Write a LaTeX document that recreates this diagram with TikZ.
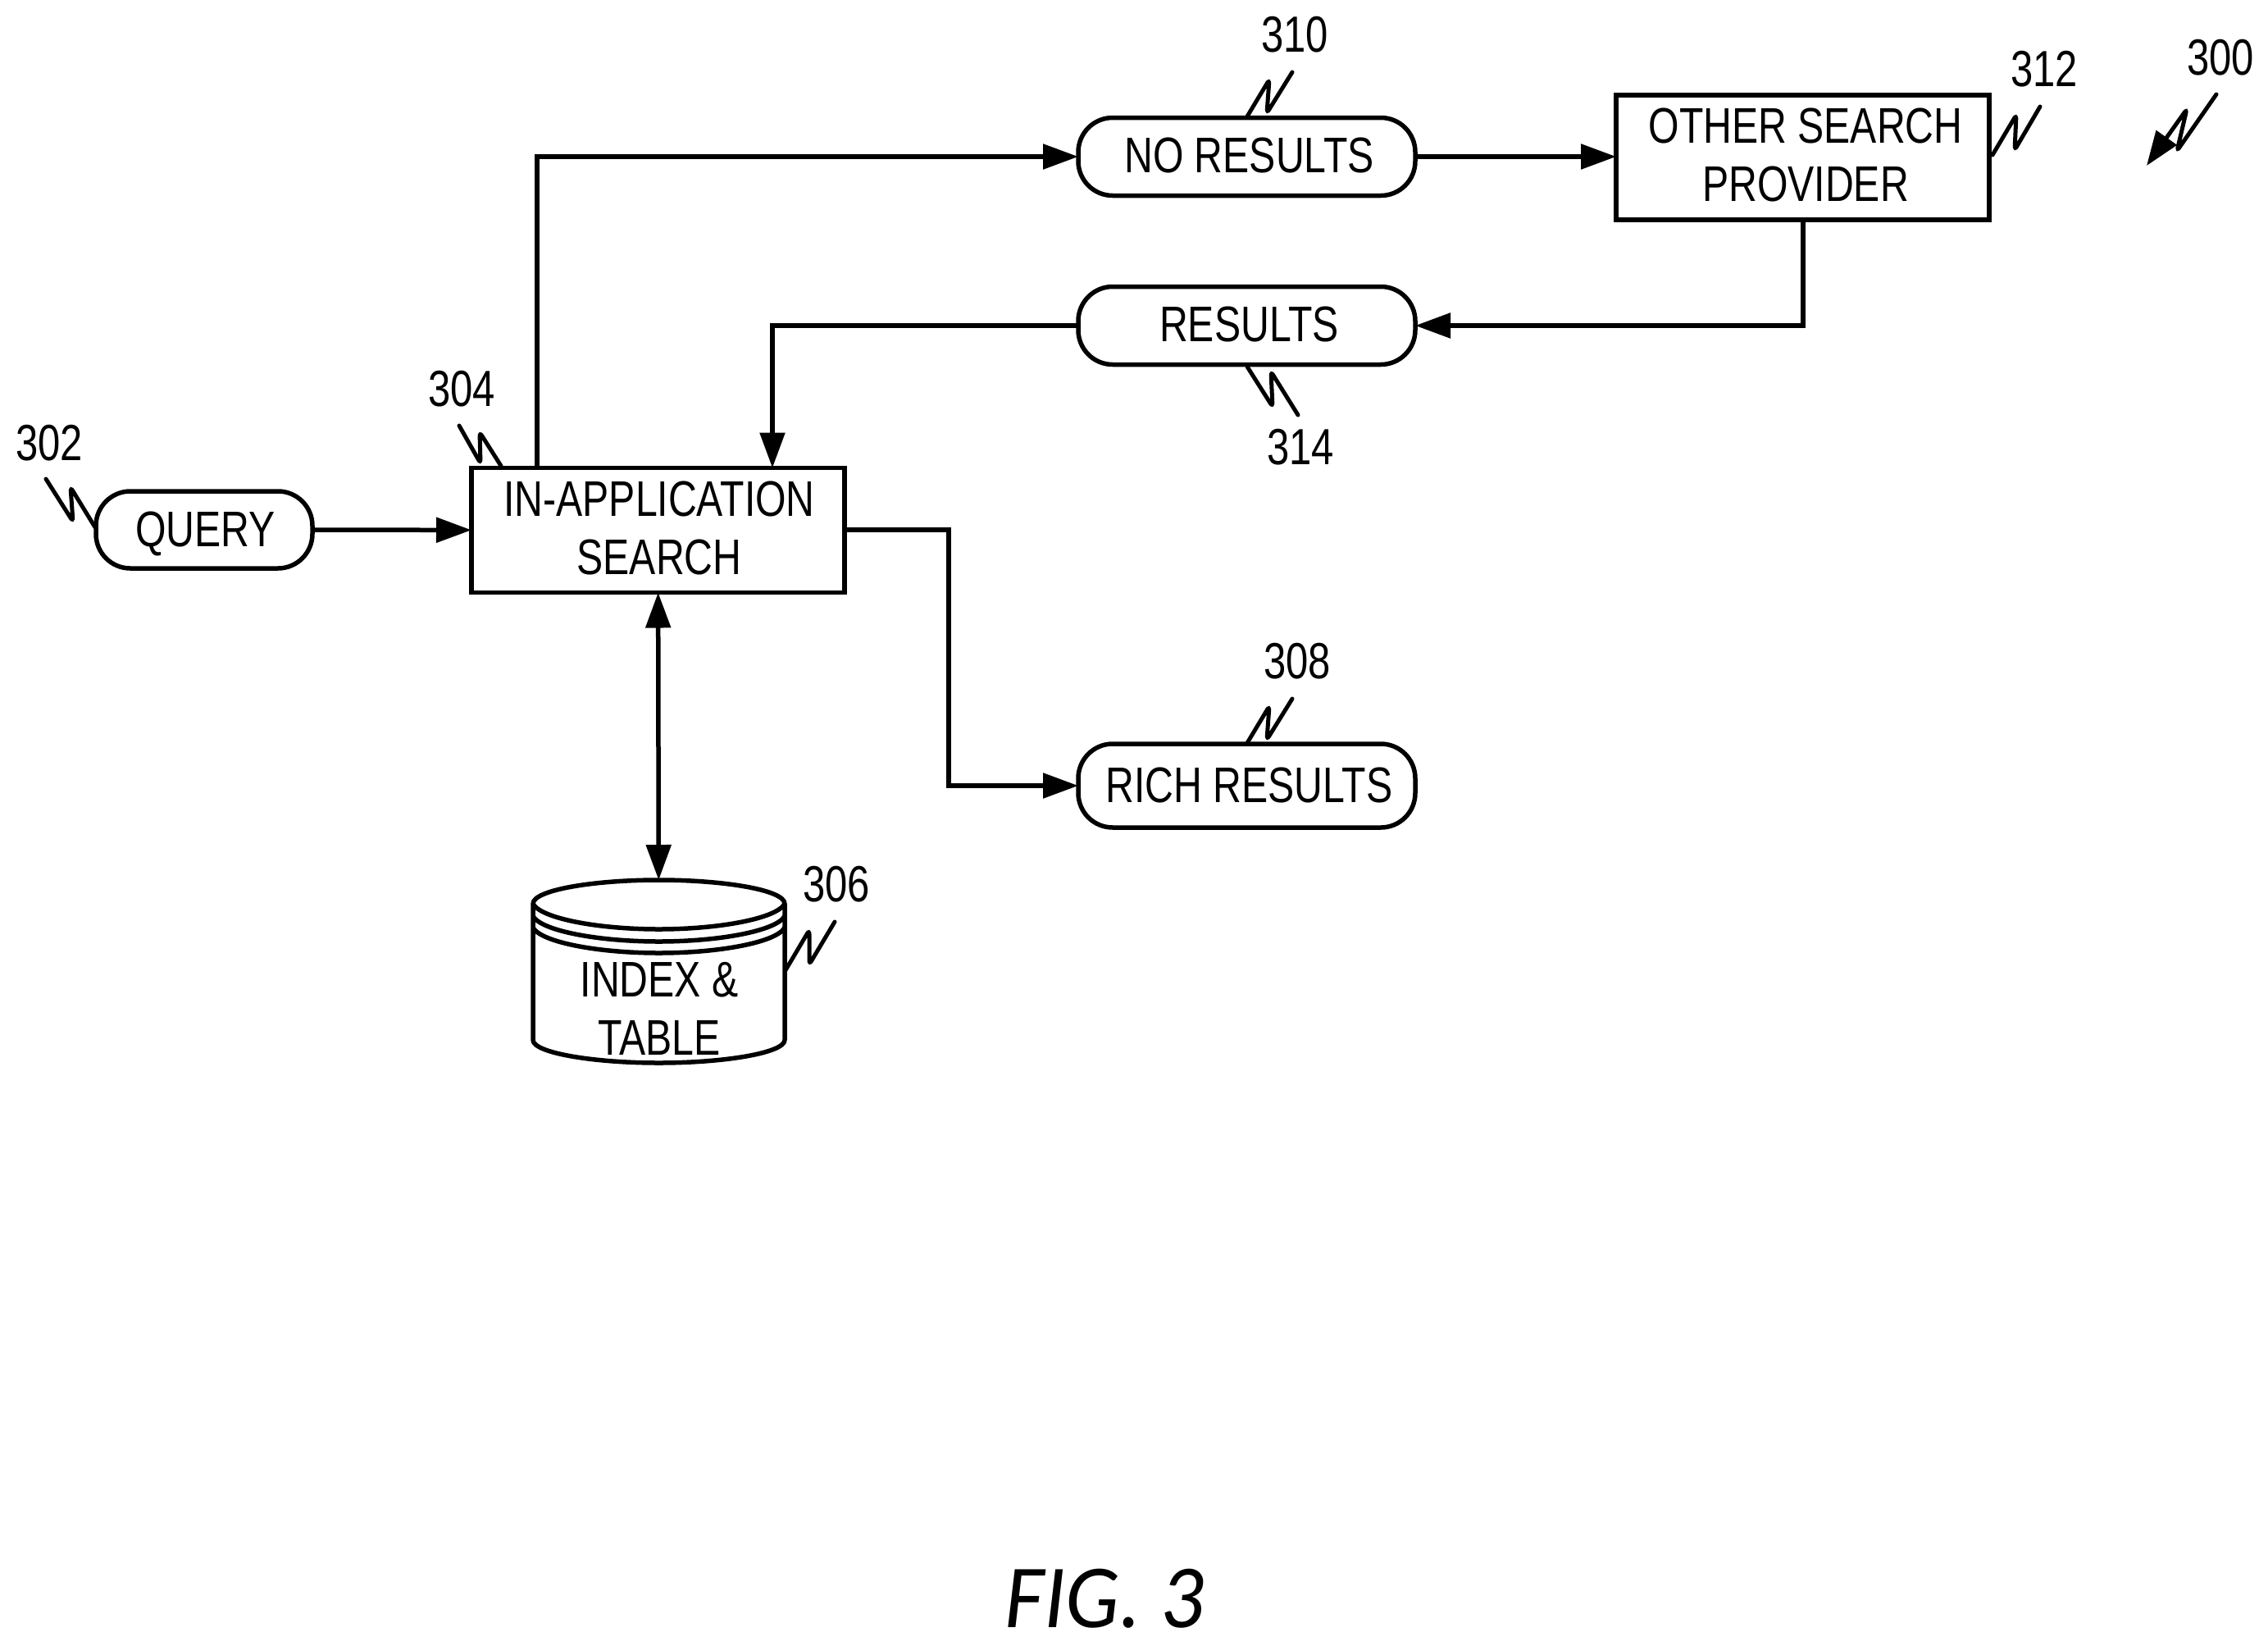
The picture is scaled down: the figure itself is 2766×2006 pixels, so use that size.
\documentclass[tikz,border=0pt]{standalone}
\usepackage{fontspec}
\setmainfont[FakeStretch=0.79]{Liberation Sans}
\newfontfamily\figfont[ItalicFont=Carlito Italic,ItalicFeatures={FakeStretch=0.95}]{Carlito}
\usetikzlibrary{arrows.meta}
\tikzset{
  x=1pt,y=-1pt,
  lbl/.style={inner sep=0pt,outer sep=0pt,align=center,font=\fontsize{61}{70.5}\selectfont},
  boxnode/.style={draw,inner sep=0pt,outer sep=0pt,line width=5.5pt,minimum width=455pt,minimum height=152pt},
  pill/.style={lbl,draw,line width=5.5pt,rounded corners=42pt,minimum width=411pt,minimum height=95pt,text height=40pt,text depth=0pt},
  conn/.style={line width=5.5pt,-{Triangle[length=43pt,width=30pt]}},
  biconn/.style={line width=5.5pt,{Triangle[length=43pt,width=30pt]}-{Triangle[length=43pt,width=30pt]}},
  refnum/.style={inner sep=0pt,outer sep=0pt,font=\fontsize{62}{70}\selectfont},
  squig/.style={line width=5pt,line cap=round,rounded corners=5pt},
  cyl/.style={line width=5.5pt,line join=round}
}
\begin{document}
\begin{tikzpicture}
\useasboundingbox (0,0) rectangle (2766,2006);
% nodes
\node[pill,minimum width=264pt,minimum height=94pt] (query) at (249,646) {\hspace*{3pt}QUERY};
\node[boxnode] (search) at (802.5,646.5) {};
\node[lbl] (searchtext) at (804,644) {IN-APPLICATION\\SEARCH};
\node[pill,text height=39pt] (nores) at (1520.5,191) {\hspace*{6pt}NO RESULTS};
\node[boxnode] (other) at (2198.5,192) {};
\node[lbl] (othertext) at (2202,189) {OTHER SEARCH\\PROVIDER};
\node[pill,text height=39pt] (res) at (1520.5,397) {\hspace*{6pt}RESULTS};
\node[pill,minimum height=102pt] (rich) at (1520.5,958) {\hspace*{6pt}RICH RESULTS};
\node[minimum width=307pt,minimum height=223pt,inner sep=0pt,outer sep=0pt] (db) at (803.5,1184.5) {};
\node[lbl] (dbtext) at (804,1230) {INDEX \&\\TABLE};
% cylinder
\draw[cyl] (650,1102) .. controls (650,1085) and (725,1073) .. (803.5,1073)
  .. controls (882,1073) and (957,1085) .. (957,1102)
  -- (957,1268) .. controls (957,1284) and (882,1296) .. (803.5,1296)
  .. controls (725,1296) and (650,1284) .. (650,1268) -- cycle;
\draw[cyl] (650,1102) .. controls (660,1120) and (730,1133) .. (803.5,1133)
  .. controls (877,1133) and (947,1120) .. (957,1102);
\draw[cyl] (650,1117) .. controls (660,1135) and (730,1148) .. (803.5,1148)
  .. controls (877,1148) and (947,1135) .. (957,1117);
\draw[cyl] (650,1131) .. controls (660,1149) and (730,1162) .. (803.5,1162)
  .. controls (877,1162) and (947,1149) .. (957,1131);
% connectors
\draw[conn] (query) -- (search);
\draw[biconn] (search) -- (db);
\coordinate (upturn) at (655,191);
\draw[conn] (search.north -| upturn) -- (upturn) -- (nores);
\draw[conn] (nores) -- (other.west |- nores);
\coordinate (downturn) at (2199,397);
\draw[conn] (other.south -| downturn) -- (downturn) -- (res);
\coordinate (resturn) at (942,397);
\draw[conn] (res) -- (resturn) -- (search.north -| resturn);
\coordinate (richturn) at (1157,646);
\draw[conn] (search.east |- richturn) -- (richturn) -- (richturn |- rich) -- (rich);
% reference numerals
\node[refnum] (n300) at (2708,70) {300};
\node[refnum] (n302) at (60,540) {302};
\node[refnum] (n304) at (563,474) {304};
\node[refnum] (n306) at (1020,1078) {306};
\node[refnum] (n308) at (1582,806) {308};
\node[refnum] (n310) at (1579,42) {310};
\node[refnum] (n312) at (2493,84) {312};
\node[refnum] (n314) at (1586,545) {314};
% lead lines
\draw[squig] (56,584) -- (89,636) -- (86,594) -- (116,643);
\draw[squig] (560,519) -- (586,565) -- (585,527) -- (611,568);
\draw[squig] (1018,1124) -- (987,1176) -- (987,1134) -- (958,1183);
\draw[squig] (1521,142) -- (1548,97) -- (1545,138) -- (1576,88);
\draw[squig] (1521,906) -- (1548,861) -- (1545,902) -- (1576,852);
\draw[squig] (2430,189) -- (2459,140) -- (2457,183) -- (2488,130);
\draw[squig] (1521,447) -- (1552,496) -- (1550,453) -- (1583,506);
\draw[squig,-{Triangle[length=42pt,width=30pt]}] (2703,115) -- (2655,184) -- (2667,133) -- (2618,202);
% caption
\node[inner sep=0pt,font=\figfont\itshape\fontsize{110}{120}\selectfont] (fig) at (1347,1949) {FIG. 3};
\end{tikzpicture}
\end{document}
